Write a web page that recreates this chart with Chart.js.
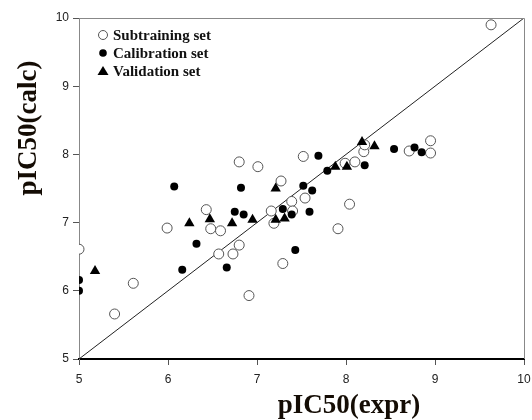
<!DOCTYPE html>
<html>
<head>
<meta charset="utf-8">
<script src="https://cdn.jsdelivr.net/npm/chart.js@4.4.0/dist/chart.umd.min.js"></script>
<style>
  html, body { margin: 0; padding: 0; background: #fff; }
  #wrap { width: 532px; height: 420px; }
</style>
</head>
<body>
<div id="wrap"><canvas id="chart" width="532" height="420"></canvas></div>
<script>
// values (x = pIC50 expr, y = pIC50 calc)
const subX = [5.00, 5.40, 5.61, 5.99, 6.43, 6.48, 6.59, 6.57, 6.73, 6.80, 6.80, 7.01, 6.91, 7.16, 7.19, 7.27, 7.29, 7.39, 7.40, 7.52, 7.54, 7.91, 8.04, 7.99, 8.10, 8.20, 8.21, 8.71, 8.95, 8.95, 9.63];
const subY = [6.61, 5.66, 6.11, 6.92, 7.19, 6.91, 6.88, 6.54, 6.54, 6.67, 7.89, 7.82, 5.93, 7.17, 6.99, 7.61, 6.40, 7.31, 7.17, 7.97, 7.36, 6.91, 7.27, 7.87, 7.89, 8.04, 8.14, 8.05, 8.20, 8.02, 9.90];

const calX = [5.00, 5.00, 6.07, 6.16, 6.32, 6.66, 6.75, 6.82, 6.85, 7.29, 7.39, 7.43, 7.52, 7.59, 7.62, 7.69, 7.79, 8.21, 8.54, 8.77, 8.85];
const calY = [6.16, 6.00, 7.53, 6.31, 6.69, 6.34, 7.16, 7.51, 7.12, 7.20, 7.12, 6.60, 7.54, 7.16, 7.47, 7.98, 7.76, 7.84, 8.08, 8.10, 8.03];

const valX = [5.18, 6.24, 6.47, 6.72, 6.95, 7.21, 7.21, 7.31, 7.88, 8.01, 8.18, 8.32];
const valY = [6.29, 6.99, 7.05, 6.99, 7.04, 7.50, 7.04, 7.06, 7.82, 7.82, 8.18, 8.12];

const lineX = [5, 10];
const lineY = [5, 10];

const xTicks = [5, 6, 7, 8, 9, 10];
const yTicks = [5, 6, 7, 8, 9, 10];

const legendLabels = ['Subtraining set', 'Calibration set', 'Validation set'];

const toPoints = (xs, ys) => xs.map((x, i) => ({ x: x, y: ys[i] }));

// frame, axis titles and legend
const extras = {
  id: 'extras',
  afterDraw(chart) {
    const ctx = chart.ctx;
    const a = chart.chartArea;
    ctx.save();
    // top and right frame lines
    ctx.strokeStyle = '#888';
    ctx.lineWidth = 1;
    ctx.beginPath();
    ctx.moveTo(a.left, a.top + 0.5);
    ctx.lineTo(a.right + 0.5, a.top + 0.5);
    ctx.lineTo(a.right + 0.5, a.bottom);
    ctx.stroke();

    // axis titles
    ctx.fillStyle = '#140c04';
    ctx.font = 'bold 27px "Liberation Serif", "Times New Roman", serif';
    ctx.textAlign = 'center';
    ctx.textBaseline = 'middle';
    ctx.fillText('pIC50(expr)', 349, 406);
    ctx.translate(29, 128);
    ctx.rotate(-Math.PI / 2);
    ctx.fillText('pIC50(calc)', 0, 0);
    ctx.restore();

    // legend
    ctx.save();
    const rows = [35, 53, 71];
    const sx = 103;
    ctx.font = 'bold 15px "Liberation Serif", "Times New Roman", serif';
    ctx.textAlign = 'left';
    ctx.textBaseline = 'middle';
    ctx.fillStyle = '#111';
    legendLabels.forEach((t, i) => {
      ctx.fillText(t, 113, rows[i] + 1);
    });
    // symbols
    ctx.lineWidth = 1;
    ctx.strokeStyle = '#555';
    ctx.beginPath();
    ctx.arc(sx, rows[0], 4.5, 0, Math.PI * 2);
    ctx.stroke();
    ctx.fillStyle = '#000';
    ctx.beginPath();
    ctx.arc(sx, rows[1], 3.8, 0, Math.PI * 2);
    ctx.fill();
    ctx.beginPath();
    ctx.moveTo(sx, rows[2] - 5);
    ctx.lineTo(sx + 5.5, rows[2] + 4);
    ctx.lineTo(sx - 5.5, rows[2] + 4);
    ctx.closePath();
    ctx.fill();
    ctx.restore();
  }
};

new Chart(document.getElementById('chart'), {
  type: 'scatter',
  data: {
    datasets: [
      {
        label: 'y = x',
        data: toPoints(lineX, lineY),
        showLine: true,
        borderColor: '#222',
        borderWidth: 1,
        pointRadius: 0,
        order: 4
      },
      {
        label: legendLabels[0],
        data: toPoints(subX, subY),
        pointStyle: 'circle',
        pointRadius: 5,
        borderWidth: 1,
        borderColor: '#555',
        backgroundColor: '#fff',
        order: 3
      },
      {
        label: legendLabels[1],
        data: toPoints(calX, calY),
        pointStyle: 'circle',
        pointRadius: 4,
        borderWidth: 0,
        borderColor: '#000',
        backgroundColor: '#000',
        order: 2
      },
      {
        label: legendLabels[2],
        data: toPoints(valX, valY),
        pointStyle: 'triangle',
        pointRadius: 6,
        borderWidth: 0,
        borderColor: '#000',
        backgroundColor: '#000',
        order: 1
      }
    ]
  },
  options: {
    responsive: false,
    animation: false,
    layout: { padding: { left: 0, top: 18, right: 0, bottom: 0 } },
    plugins: {
      legend: { display: false },
      tooltip: { enabled: false }
    },
    scales: {
      x: {
        type: 'linear',
        min: 5,
        max: 10,
        afterFit: s => { s.height = 61; s.paddingLeft = 0; s.paddingRight = 8; },
        afterBuildTicks: s => { s.ticks = xTicks.map(v => ({ value: v })); },
        grid: { drawOnChartArea: false, tickLength: 6, color: '#555' },
        border: { color: '#000', width: 2 },
        ticks: {
          font: { family: '"Liberation Sans", Arial, sans-serif', size: 12 },
          color: '#222',
          padding: 7,
          maxRotation: 0
        }
      },
      y: {
        type: 'linear',
        min: 5,
        max: 10,
        afterFit: s => { s.width = 79; s.paddingTop = 0; s.paddingBottom = 0; },
        afterBuildTicks: s => { s.ticks = yTicks.map(v => ({ value: v })); },
        grid: { drawOnChartArea: false, tickLength: 6, color: '#555' },
        border: { color: '#888', width: 1 },
        ticks: {
          font: { family: '"Liberation Sans", Arial, sans-serif', size: 12 },
          color: '#222',
          padding: 4
        }
      }
    }
  },
  plugins: [extras]
});
</script>
</body>
</html>
